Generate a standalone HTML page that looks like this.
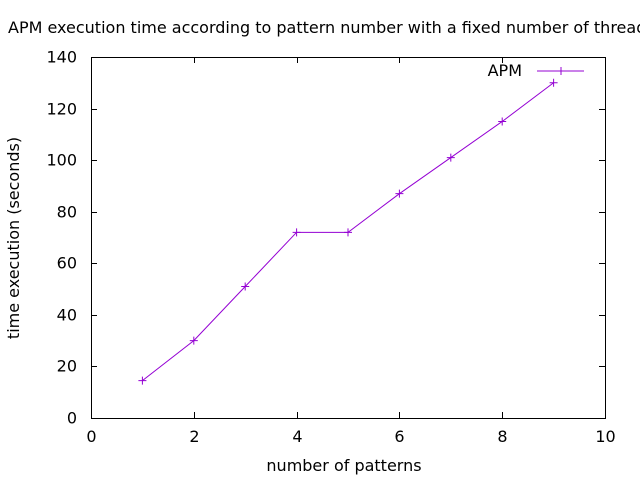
<!DOCTYPE html>
<html><head><meta charset="utf-8"><style>
body{margin:0;background:#fff;overflow:hidden}
svg text{font-family:"DejaVu Sans","Liberation Sans",sans-serif;font-size:16px;fill:#000}
</style></head><body>
<svg width="640" height="480" viewBox="0 0 640 480">
<rect width="640" height="480" fill="#fff"/>
<text x="8" y="33">APM execution time according to pattern number with a fixed number of threads</text>
<g id="axes"></g>
<g id="marks"></g>
<text x="344" y="471" text-anchor="middle">number of patterns</text>
<text transform="translate(19,238) rotate(-90)" text-anchor="middle">time execution (seconds)</text>
<g>
<text x="522" y="76" text-anchor="end">APM</text>
<line x1="537" y1="71" x2="584" y2="71" stroke="#9400d3" stroke-width="1"/>
<path d="M557 71h8M561 67v8" stroke="#9400d3" stroke-width="1"/>
</g>
</svg>
<script>
const categories=[1,2,3,4,5,6,7,8,9];
const apmValues=[14.5,30,51,72,72,87,101,115,130];
const xTicks=[0,2,4,6,8,10];
const yTicks=[0,20,40,60,80,100,120,140];
const L=91,R=605,T=57,B=418;
const xs=v=>L+(v-0)/10*(R-L);
const ys=v=>B-(v/140)*(B-T);
const NS="http://www.w3.org/2000/svg";
const ax=document.getElementById('axes');
function mk(tag,attrs,parent){const e=document.createElementNS(NS,tag);for(const k in attrs)e.setAttribute(k,attrs[k]);parent.appendChild(e);return e;}
const frame=mk('rect',{x:L+0.5,y:T+0.5,width:R-L,height:B-T,fill:'none',stroke:'#000','stroke-width':1},ax);


xTicks.forEach(t=>{const x=Math.round(xs(t))+0.5;
 mk('path',{d:`M${x} ${B}v-6M${x} ${T}v6`,stroke:'#000'},ax);
 const tx=mk('text',{x:x,y:B+24,'text-anchor':'middle'},ax);tx.textContent=t;
 
 
});
yTicks.forEach(t=>{const y=Math.round(ys(t))+0.5;
 mk('path',{d:`M${L} ${y}h6M${R} ${y}h-6`,stroke:'#000'},ax);
 const tx=mk('text',{x:L-14,y:y+5,'text-anchor':'end'},ax);tx.textContent=t;
 
 
});
const g=document.getElementById('marks');
const pts=categories.map((c,i)=>[xs(c),ys(apmValues[i])]);
const line=mk('polyline',{points:pts.map(p=>p.join(',')).join(' '),fill:'none',stroke:'#9400d3','stroke-width':1},g);


pts.forEach(p=>{const m=mk('path',{d:`M${p[0]-4} ${p[1]}h8M${p[0]} ${p[1]-4}v8`,stroke:'#9400d3','stroke-width':1},g);
 
 
});
</script>
</body></html>
